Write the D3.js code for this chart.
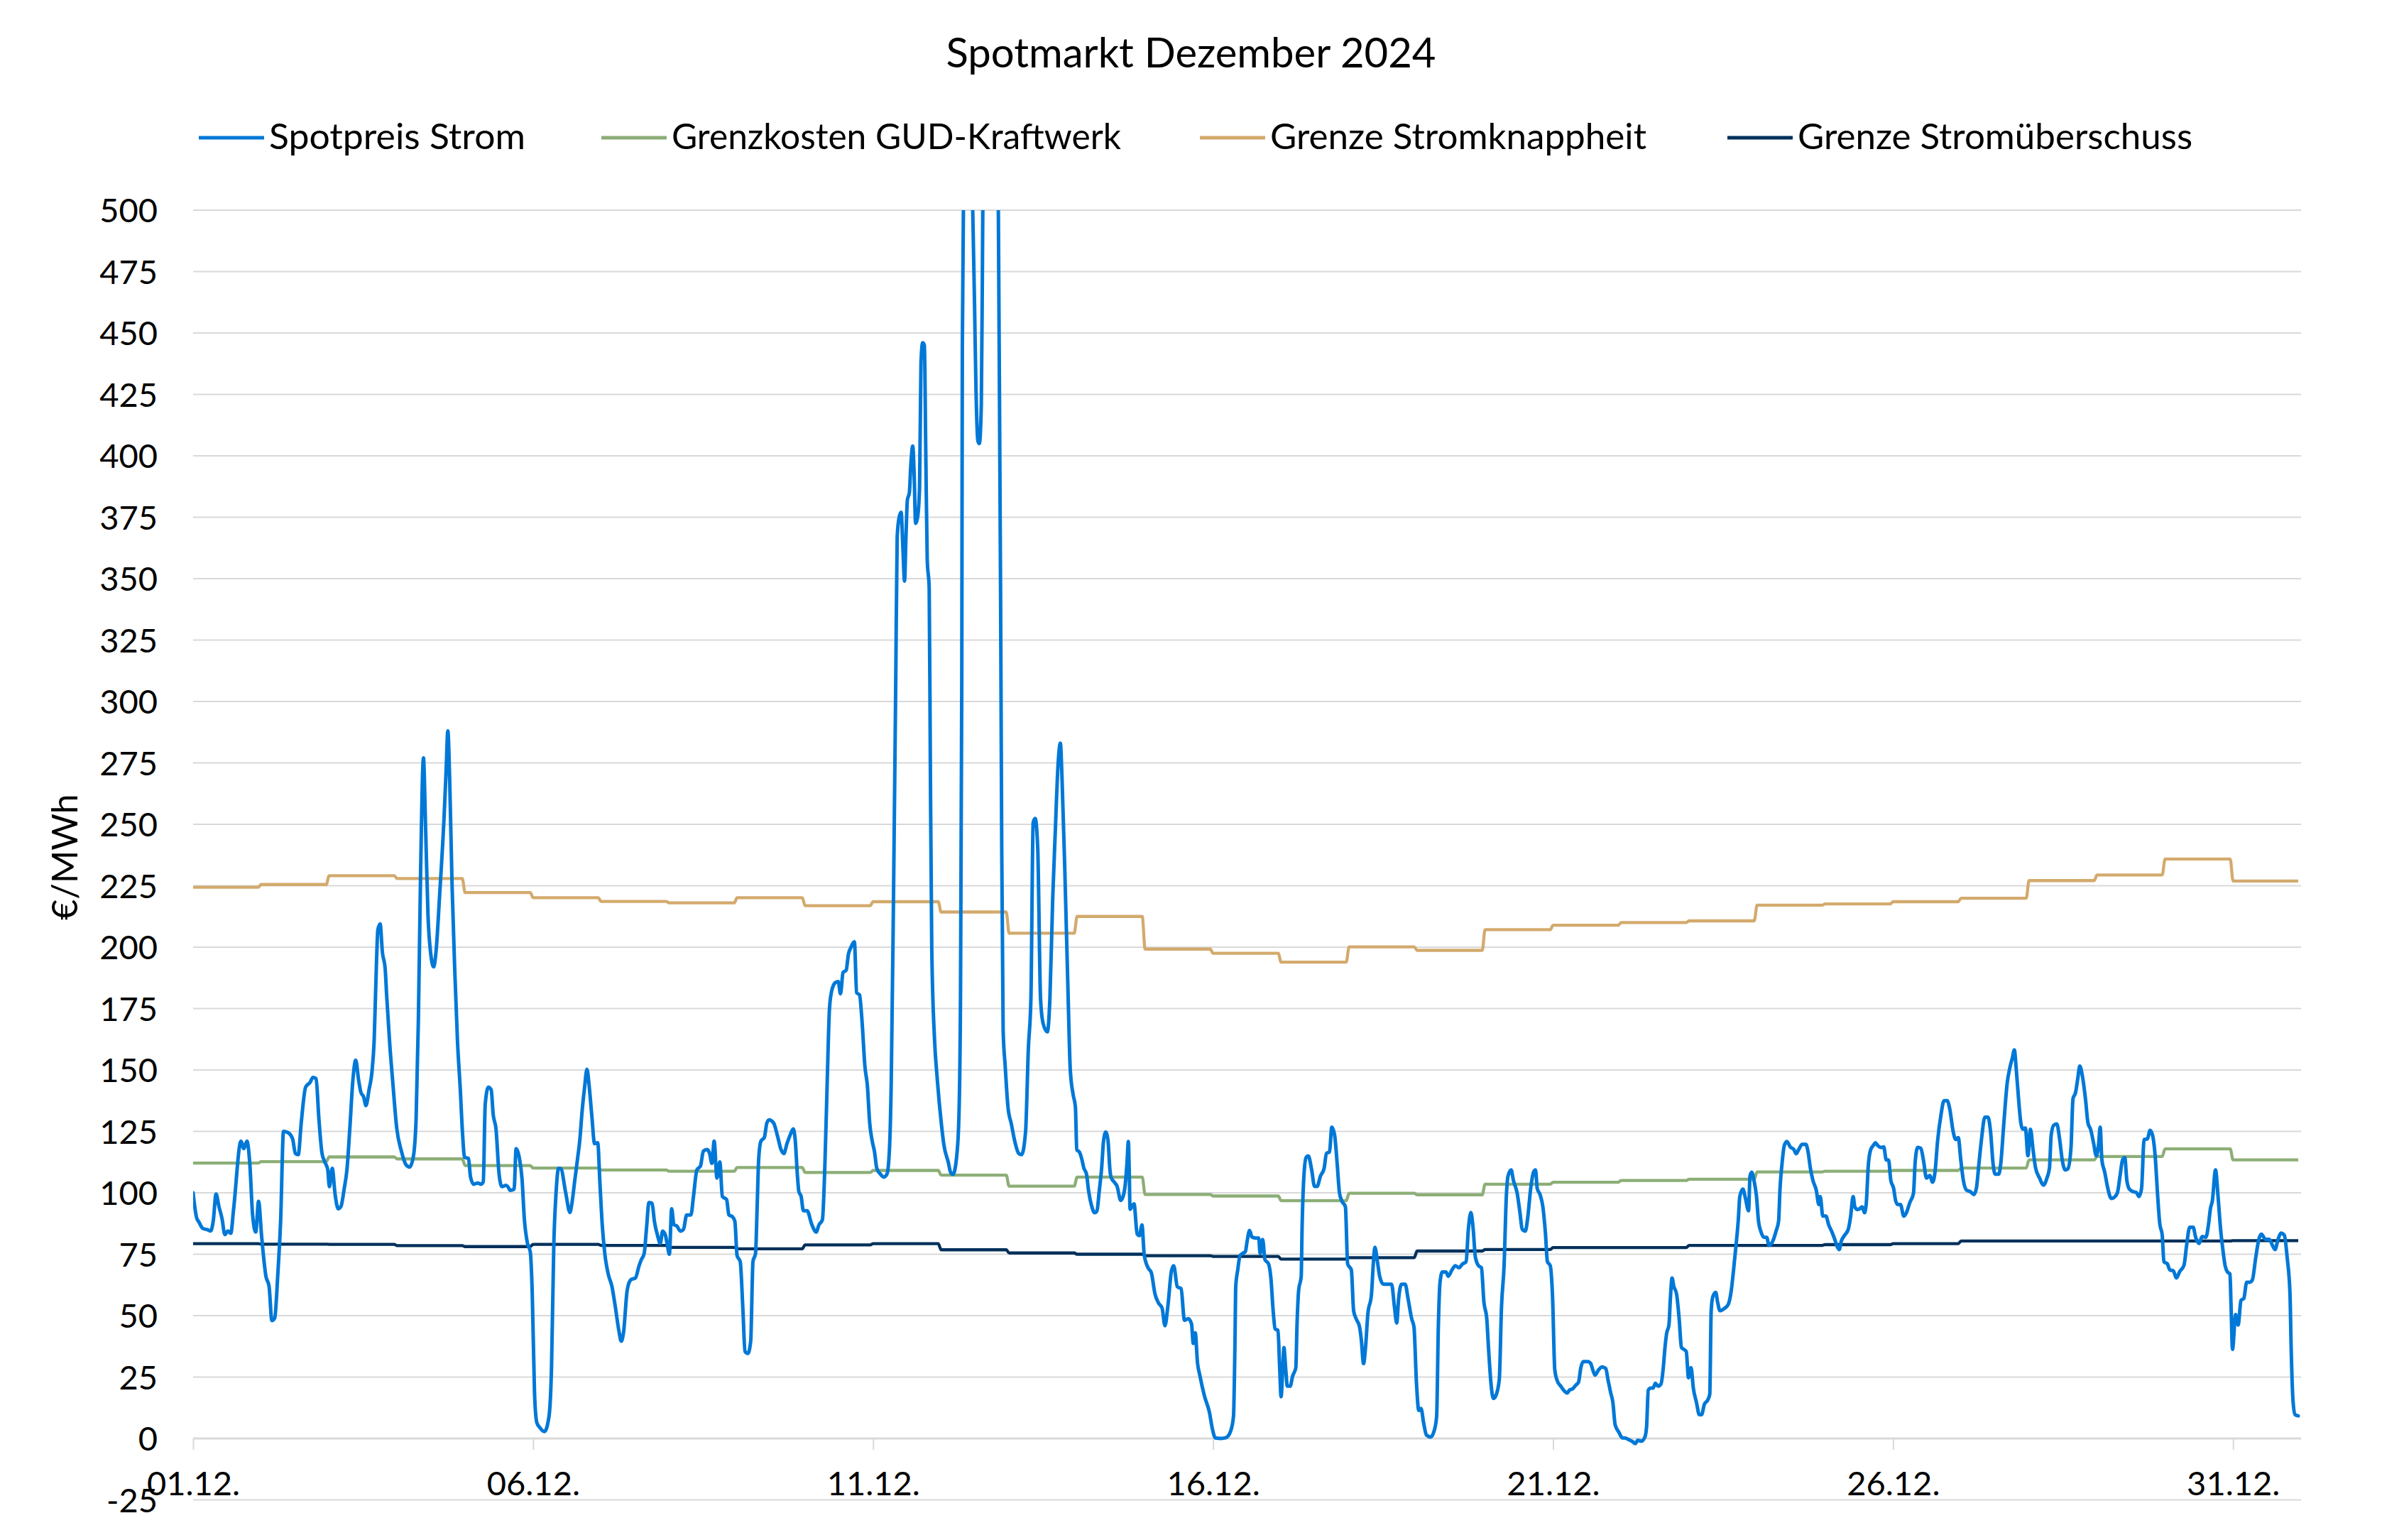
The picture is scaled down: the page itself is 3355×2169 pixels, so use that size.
<!DOCTYPE html>
<html>
<head>
<meta charset="utf-8">
<script src="https://cdn.jsdelivr.net/npm/d3@7"></script>
<style>
  html, body { margin: 0; padding: 0; background: #ffffff; }
  svg { display: block; }
  text { font-family: Lato, Carlito, Calibri, "Noto Sans", sans-serif; fill: #000000; }
</style>
</head>
<body>
<svg id="chart" width="3355" height="2169"></svg>
<script>
// ---------------- DATA ----------------
const chartTitle = "Spotmarkt Dezember 2024";
const yAxisTitle = "€/MWh";
const seriesNames = ["Spotpreis Strom", "Grenzkosten GUD-Kraftwerk", "Grenze Stromknappheit", "Grenze Stromüberschuss"];
const yTicks = [-25, 0, 25, 50, 75, 100, 125, 150, 175, 200, 225, 250, 275, 300, 325, 350, 375, 400, 425, 450, 475, 500];
const xTickDays = [1, 6, 11, 16, 21, 26, 31];
const xTickLabels = ["01.12.", "06.12.", "11.12.", "16.12.", "21.12.", "26.12.", "31.12."];

// daily values (Dec 1 .. Dec 31), €/MWh
const gudCosts = [112.1, 112.7, 114.6, 113.8, 111.1, 110.1, 109.3, 108.8, 110.3, 108.3, 109.1, 107.2, 102.7, 106.4, 99.3, 98.7,
  96.8, 99.8, 99.2, 103.5, 104.3, 105.0, 105.5, 108.5, 108.8, 109.1, 110.1, 113.4, 114.8, 117.9, 113.4];
const scarcityLimit = [224.4, 225.5, 229.1, 227.9, 222.2, 220.1, 218.6, 218.0, 220.1, 216.9, 218.5, 214.3, 205.7, 212.5, 199.2, 197.5,
  193.9, 200.1, 198.7, 207.1, 208.9, 210.0, 210.7, 217.1, 217.6, 218.5, 219.9, 227.1, 229.4, 235.9, 226.9];
const surplusLimit = [79.3, 79.1, 79.0, 78.5, 78.1, 79.0, 78.6, 77.8, 77.2, 78.8, 79.3, 76.8, 75.5, 75.0, 74.4, 74.1,
  73.0, 73.6, 76.3, 76.9, 77.7, 77.7, 78.6, 78.6, 78.9, 79.3, 80.4, 80.4, 80.4, 80.4, 80.5];

// spot price readings: hour since 01.12. 00:00 and price (€/MWh)
const spotHours = [
  0,1.2,2.1,3.4,5,6.2,7.1,8.1,9.1,10.2,
  11.2,12.3,13.3,14.3,16.9,17.9,19,20,21,22.1,
  23.1,24.2,25.7,26.8,27.8,28.8,29.9,30.9,31.9,33.5,
  35.1,36.1,37.1,38.2,39.7,41.3,42.3,43.4,44.4,45.5,
  46.5,47.5,48.1,49.1,50.1,51.2,52.2,53.3,54.3,55.3,
  56.4,57.4,58.4,59.2,60.2,61,62.1,63.1,63.9,64.7,
  65.2,66,66.8,67.8,68.3,69.4,70.4,71.9,73.5,75.1,
  76.4,77.7,78.7,79.5,80.3,81.3,82,82.9,83.9,84.9,
  85.8,87,88.6,89.3,89.9,90.6,91.4,92.4,93.3,94.3,
  95.1,95.8,97.2,97.9,99,100.5,101.6,102.4,103.1,104.2,
  105.2,105.9,106.9,108,109,110.4,111.1,111.9,113.3,114,
  115.1,116.1,116.9,118,119,119.7,120.5,121.3,122.3,124,
  125.6,126.5,127.3,128.1,129,129.8,131.5,133,133.6,134.7,
  135.7,136.5,137.3,138.2,139,139.8,140.7,141.7,142.8,143.6,
  144.4,145.3,146.5,147.8,149,150.3,151.1,151.9,153.2,154.4,
  155.3,156.1,157.4,158.2,159.2,160,160.9,162,162.8,163.9,
  164.9,165.7,166.7,167.4,168.1,168.9,169.7,170.7,172,173.1,
  174.2,175.7,176.6,177.8,179.1,180.1,181.4,182.3,183.1,183.9,
  184.9,185.9,186.8,188.3,189.1,190.4,191.2,192,193.1,194,
  194.8,195.8,196.8,197.6,198.5,199.1,199.6,200.4,201.6,202.5,
  203.3,204.9,206.2,207.5,208.5,209.6,210.8,211.8,212.5,213.3,
  213.8,214.6,215.4,216.7,218.4,219.9,220.9,222.1,223,223.8,
  224.6,225.4,226.7,227.7,228.5,229.4,230.5,231.3,232.1,233.4,
  234.2,235.2,236.1,237.1,238,238.8,239.7,240.5,241.3,242.6,
  243.8,244.9,245.8,246.4,247.2,248,248.5,249.2,249.9,250.5,
  251.1,251.6,252.1,252.8,253.3,254,254.5,255,255.7,256.4,
  256.9,257.5,258.1,258.6,259.1,259.8,260.2,260.7,261.7,262.6,
  264.1,265,266.5,267.4,268.2,269.6,270.3,270.8,271.3,271.5,
  272.3,273.3,274.5,275.8,276.3,277,277.5,278.2,278.6,279.5,
  281,282,283,284,284.5,285,285.4,285.9,286.6,287.6,
  288.8,290,291.4,292.4,293.8,294.8,295.7,296.5,297.2,298.1,
  299.1,300,301.5,302.4,303.4,304.3,305.3,306.1,306.7,307.7,
  308.7,309.6,310.6,311.4,311.9,312.8,313.6,314.4,315.3,316.1,
  317.1,318.2,319,319.8,320.7,321.3,322.1,322.9,323.6,324,
  325.3,326.1,327.4,328.2,329,329.6,330.1,330.4,330.7,331.5,
  332.1,333.2,334,334.9,335.7,337,338.2,339.5,340.7,342,
  343,344.1,345.3,346.1,347.4,348.7,349.9,351.2,352.4,353,
  353.7,354.5,355.3,357,358.7,359.7,360.8,362.9,364.5,366.2,
  367.2,367.7,368,368.7,369.5,370.4,371.4,372,372.9,373.7,
  375,376.1,376.6,377.5,378.3,379.6,380.4,381.2,381.9,382.9,
  383.5,384,384.6,385,385.6,386.2,387.2,388.1,389.2,389.6,
  390.2,391.1,391.4,391.9,392.8,393.6,394.8,395.8,396.7,397.9,
  399.2,400,401.1,401.9,402.9,403.8,404.6,405.4,406.7,407.5,
  408.8,409.6,410.5,411.7,412.3,413.1,413.8,414.6,415.9,416.6,
  417.1,418,418.8,420.1,421.7,423,424,424.8,425.5,426.5,
  427.8,428.8,430.1,430.9,431.8,432.6,433.4,434.3,435.3,436.8,
  438,438.9,439.5,440.1,440.9,442.2,443,444.3,445.5,446.8,
  448,449.3,450.1,451,451.8,452.6,453.7,454.7,455.6,456.6,
  457.2,458.1,458.9,459.7,461,461.8,462.7,463.5,464.1,465.2,
  466,467.3,468.3,469.1,470.2,471,472.1,473.1,473.8,474.4,
  475.4,476.4,477.3,478,479,479.8,480.6,481.5,482.7,484,
  485,485.8,486.9,488.1,489,489.8,490.6,492.3,493.3,494,
  494.8,496.1,497.3,498.6,499.4,500.3,501.1,501.9,503.2,504.4,
  505.7,506.9,508.2,509,509.9,511.1,512.4,513,513.6,514.5,
  515.3,516.1,517,518.1,518.9,519.5,520.1,520.9,521.4,522,
  522.6,523.6,524.5,525.3,526.1,527,527.8,528.7,529.5,530.6,
  531.6,532.4,533.4,534.5,535.3,535.8,536.4,537.4,538.1,538.9,
  540.4,541.8,542.9,543.7,544.5,545.4,545.9,547,547.9,549,
  549.5,550.1,550.9,551.8,552.5,553.3,554.5,555.4,556.2,557.5,
  558.7,559.6,560.1,560.8,561.6,562.5,563.7,565,565.8,566.7,
  567.9,569.2,570,570.8,571.7,572.9,573.8,574.3,575.2,576.3,
  577.3,578.3,579.4,580.4,581,581.7,582.9,584.2,585,585.9,
  586.5,587.4,588.2,589.1,589.9,590.5,591.3,592.1,593,593.8,
  594.6,595.9,596.7,597.6,598.4,599.2,600.2,600.9,601.7,602.6,
  603.8,604.7,605.9,607.2,607.8,608.7,609.8,610.7,611.8,613,
  613.9,614.8,615.7,616.9,618,619.1,620,621.2,622.1,623,
  623.9,624.8,626,627.3,628.5,629.4,630.3,631.2,632.4,633.5,
  634.4,635.3,636,637.3,638,639.1,640.3,641.2,642.1,642.8,
  643.5,644.4,645.1,645.8,646.7,647.6,648.5,649.4,650.3,651.7,
  653.1,654.3,655.2,655.8,656.7,657.8,658.8,659.7,660.8,661.7,
  662.8,663.5,664.4,665.2,665.9,666.7,667.9,668.8,669.7,670.8,
  671.7,672.5,673.1,673.7,674.7,675.8,677,678.1,679.2,680.1,
  681,681.8,682.5,683.4,684.7,685.9,686.8,687.7,688.6,689.8,
  690.7,691.6,692.5,693.4,694.1,695,695.6,696.8,697.7,698.9,
  700,701.1,702.7,703.6,704.7,705.9,706.8,708,709.1,710.4,
  711.4,712,712.7,713.8,714.7,715.6,716.4,717.2,718,718.9,
  719.3,719.8,720.9,721.8,722.8,723.8,724.8,725.9,726.8,728,
  729.1,730,731.4,732.8,733.9,734.8,735.9,736.9,738.1,739.1,
  740.1,740.5,741.2,741.9,743
];
const spotPrices = [
  100,90,88,85.5,85,84.5,88.5,99.5,94.5,89.5,
  83,84.5,83.5,93.5,121,118,121,112,91,84,
  96.5,82,66,62,48,49,67,89,125,124.5,
  122,116,115.5,129,143,145,147,146.5,130,116,
  112.5,109.5,102.5,110,99.5,93.5,94.5,101.5,109.5,126,
  146,154,146,141,139,135.5,142,149,162,193,
  207,209.5,198,191,180.5,160.5,146,126,117,111.5,
  110.5,114.5,130,170,231,277,251,213,197,192,
  199,221,253.5,272,288,266,225,189,162,142,
  124,114.5,114,106.5,103.5,104,103.5,104.5,136,143,
  142,132,126,107.5,102.5,103,102.5,101,101.5,118,
  114.5,105.5,89.5,79.5,76,59,18.5,6.5,4.5,2.8,
  8.9,29,78.6,100,110,109.8,100,92,95,105,
  114,121.7,133.3,143.3,150.3,143.3,131.7,120,120.4,103.5,
  87,75.3,67,62,53.7,43.7,39.6,43,60.3,64.5,
  65,65.3,70.3,72.8,75.3,85.2,96,95.7,88.5,82.7,
  79.4,84.4,82.7,78.6,75,93.5,87,86.5,84.4,85.2,
  91,91,98.5,109.3,111,117,117.6,116,112,121,
  106,112.6,98.5,97.2,91,90.2,88.5,74.4,72,53.7,
  35.4,34.6,39.6,72,75.3,95.2,113.4,121,122.5,128.4,
  129.7,128.4,123.4,117.6,116,120,123.7,126,121.7,106.8,
  100.5,98.5,92.7,92.7,87,84,87,89,111.8,145,
  174.8,182.3,185.6,186,181,189.7,190.6,197.2,199.7,202.2,
  181.4,180.6,169.8,151.6,143.3,128.4,121,116.7,110,107.6,
  106.4,107.6,118.4,145,220,309,367,375,377,363,
  349,367,382,385,396,404,392,372.5,375,387,
  438,446,445,401,358,346,275,200,162,147,
  128,119.4,112.6,108.2,107.5,116,131.4,172,309,445,
  560,600,540,462,428,406,405,421,479,640,
  936,880,720,540,445,343,240,166,152,135,
  128,121,116,115.5,124.6,158.7,179,250.7,252.4,240.5,
  179,169,165.5,179,220,247,274.6,283,268,230,
  186,150,140,135,117.5,116.6,114,110,107.7,100.5,
  94.8,91.9,92.6,100.5,110.6,120.7,124.7,121.4,109.2,106.3,
  104.1,102.7,96.9,98.4,103.4,112,120.9,109.2,93.3,94.8,
  95.5,83.3,82.6,86.9,74.7,69.6,67.5,58.8,55.2,53.1,
  45.9,54.5,68.2,70.3,61.7,61,48.1,48.8,46.6,38.7,
  43,30.8,25.8,17.1,10.7,4.2,0.2,0,0.3,3,
  9,37,62,68.6,74.4,75.3,76.1,80.2,84.7,82,
  81.6,81.6,75.3,81,72.8,71,65.3,52,44.6,44,
  28.8,17,28.8,37,28.8,21.3,21.3,25.5,28.8,45.4,
  60.3,66,85,103.5,114.3,115,109.3,102.6,102.6,106.8,
  110,116,116.7,126.7,123.4,111.8,100,96.8,94.3,71,
  68.6,52,48.7,45.4,40.4,30.5,37,50.4,58.7,72,
  77.8,72,66,62.8,62.8,62.8,53.7,47,57,62.8,
  62.8,57,48.7,45.4,22.2,11.4,12.2,6.4,1.4,0.6,
  3,9,45.4,63.6,67.8,67.8,66,68.6,70.3,69.5,
  71,72,85.2,92,85.2,73.6,70.3,69.5,55.4,48.7,
  37,22.2,16.3,17.2,23.8,53.7,70.3,98.5,106.8,109.3,
  105,100,92,85.2,84.4,89.4,101.8,108.4,109.3,101.8,
  99.3,94.3,83.6,72,70.3,58,28,23.4,21.3,19.3,
  18.5,19.7,20.2,21.8,23,28.8,31.3,31.3,30.5,28,
  25.8,28,29.1,28.5,23.8,18.8,14.7,5.6,2.6,0.3,
  0.1,-0.6,-1.4,-2.1,-0.7,-1.1,0.6,4.7,19.7,20.5,
  20.5,22.5,21.3,22.2,28.8,37.1,42.9,46.2,57,65.3,
  62,58.7,48.7,37.1,36.3,35.4,24.7,28.8,20.5,14.7,
  9.7,9.7,13.9,15.5,18,52,57.8,59.5,55.3,52,
  52.9,54.5,60.3,68.6,77.8,89.4,98.5,101.5,97.7,92.7,
  106.8,108.4,105.1,98.5,88.5,84.4,81.9,81.9,78.6,80.2,
  84.4,88.5,101.8,111.8,119.2,120.9,118.7,117.6,115.9,117.6,
  119.7,119.7,116.7,110.1,105.1,101,95.2,98.5,90.5,90.5,
  86.9,84.4,81.1,77.8,76.9,80.2,82.7,85.2,90.2,98.5,
  94.3,93.2,93.5,94.3,91.9,95.2,111.8,117.6,119.2,120.4,
  119.2,118.4,118.7,113.4,113.4,105.1,101.8,96.8,95.2,95.2,
  90.5,91.9,96,99.8,112.5,118.5,118.1,113.4,106,107.1,
  104.3,108.4,120.9,131.7,137.5,137.5,134.2,125,121.7,122.5,
  113.4,105.1,101,100.5,99.3,101.8,111.8,121.7,130.8,130.8,
  125,111.8,107.6,107.6,111.8,128.4,144.9,150.8,154.9,158.2,
  149.9,136.7,128.4,125.9,126.4,115.1,125.9,117.6,110.1,106,
  103.1,106,110.1,123.4,127.5,128,121.7,113.4,109.3,109.8,
  118.4,138.3,140.8,146.6,151.6,148.3,138.3,128.4,125.9,120.1,
  115.1,119.2,126.7,113.4,108.4,101.8,97.7,98.2,100.1,106.8,
  113.4,114.3,105.1,101.5,100.5,100.1,98.5,101.8,121.7,122,
  125.4,123.4,115.1,98.5,87.7,82.7,71.9,71.1,68.6,68.3,
  65.3,67.8,70.6,78.6,86,86,81.9,79.4,82.2,81.9,
  87.7,93.5,96.8,109.3,98.5,85.2,76.9,70.3,67.8,67,
  53.7,36.3,50.4,46.2,56.2,57,63.6,63.6,64.5,73.6,
  81.1,83.2,81.1,81.1,78.6,76.9,81.1,83.6,82.7,73.6,
  58.7,37.1,14.7,9.7,9.2
];

// ---------------- LAYOUT / STYLE ----------------
const colors = { spot: "#0078D7", gud: "#8CAE77", scarcity: "#D3AA6D", surplus: "#00305A", grid: "#D9D9D9" };
const plot = { left: 272, right: 3241, top: 296, bottom: 2112.5 };

const svg = d3.select("#chart");
const x = d3.scaleLinear().domain([0, 744]).range([plot.left, plot.right]);
const y = d3.scaleLinear().domain([-25, 500]).range([plot.bottom, plot.top]);

// gridlines
svg.append("g").selectAll("line").data(yTicks.filter(t => t !== 0)).join("line")
  .attr("x1", plot.left).attr("x2", plot.right)
  .attr("y1", d => y(d)).attr("y2", d => y(d))
  .attr("stroke", colors.grid).attr("stroke-width", 2);

// y axis labels
const yAxis = svg.append("g")
  .attr("transform", `translate(${plot.left},0)`)
  .call(d3.axisLeft(y).tickValues(yTicks).tickSize(0).tickPadding(50).tickFormat(d => String(d)));
yAxis.select(".domain").remove();
yAxis.selectAll("text").attr("font-size", 47).attr("dy", "0.36em")
  .style("font-family", "Lato, Carlito, Calibri, sans-serif").attr("fill", "#000");

// x axis (crosses at 0)
const xTickHours = xTickDays.map(d => (d - 1) * 24);
const xAxis = svg.append("g")
  .attr("transform", `translate(0,${y(0)})`)
  .call(d3.axisBottom(x).tickValues(xTickHours).tickSize(16).tickPadding(31)
    .tickFormat((d, i) => xTickLabels[i]));
xAxis.select(".domain").remove();
xAxis.selectAll(".tick line").attr("stroke", colors.grid).attr("stroke-width", 2);
xAxis.selectAll("text").attr("font-size", 47)
  .style("font-family", "Lato, Carlito, Calibri, sans-serif").attr("fill", "#000");

// zero axis line
svg.append("line")
  .attr("x1", plot.left).attr("x2", plot.right)
  .attr("y1", y(0)).attr("y2", y(0))
  .attr("stroke", colors.grid).attr("stroke-width", 3);

// clip
svg.append("defs").append("clipPath").attr("id", "plotClip")
  .append("rect").attr("x", plot.left).attr("y", plot.top)
  .attr("width", plot.right - plot.left).attr("height", plot.bottom - plot.top + 20);

const line = d3.line().x(d => x(d[0])).y(d => y(d[1])).curve(d3.curveMonotoneX);

function dailySteps(values) {
  const pts = [];
  values.forEach((v, i) => { pts.push([i * 24, v]); pts.push([i * 24 + 23, v]); });
  return pts;
}

const g = svg.append("g").attr("clip-path", "url(#plotClip)");
g.append("path").datum(dailySteps(gudCosts)).attr("d", line)
  .attr("fill", "none").attr("stroke", colors.gud).attr("stroke-width", 4.3).attr("stroke-linejoin", "round");
g.append("path").datum(dailySteps(scarcityLimit)).attr("d", line)
  .attr("fill", "none").attr("stroke", colors.scarcity).attr("stroke-width", 4.3).attr("stroke-linejoin", "round");
g.append("path").datum(dailySteps(surplusLimit)).attr("d", line)
  .attr("fill", "none").attr("stroke", colors.surplus).attr("stroke-width", 4.3).attr("stroke-linejoin", "round");
g.append("path").datum(spotHours.map((h, i) => [h, spotPrices[i]])).attr("d", line)
  .attr("fill", "none").attr("stroke", colors.spot).attr("stroke-width", 5)
  .attr("stroke-linejoin", "round").attr("stroke-linecap", "round");

// title
svg.append("text").attr("x", 1677.5).attr("y", 95).attr("text-anchor", "middle")
  .attr("font-size", 58).text(chartTitle);

// y axis title
svg.append("text").attr("transform", "translate(109,1207) rotate(-90)")
  .attr("text-anchor", "middle").attr("font-size", 50).text(yAxisTitle);

// legend
const legendX = [280, 847, 1690, 2433];
const legendTextWidths = [361, 633, 530, 556];
const legendColors = [colors.spot, colors.gud, colors.scarcity, colors.surplus];
const leg = svg.append("g").selectAll("g").data(seriesNames).join("g")
  .attr("transform", (d, i) => `translate(${legendX[i]},0)`);
leg.append("line").attr("x1", 0).attr("x2", 92).attr("y1", 194).attr("y2", 194)
  .attr("stroke", (d, i) => legendColors[i]).attr("stroke-width", 5);
leg.append("text").attr("x", 99).attr("y", 210).attr("font-size", 51)
  .attr("textLength", (d, i) => legendTextWidths[i]).attr("lengthAdjust", "spacingAndGlyphs")
  .text(d => d);
</script>
</body>
</html>
